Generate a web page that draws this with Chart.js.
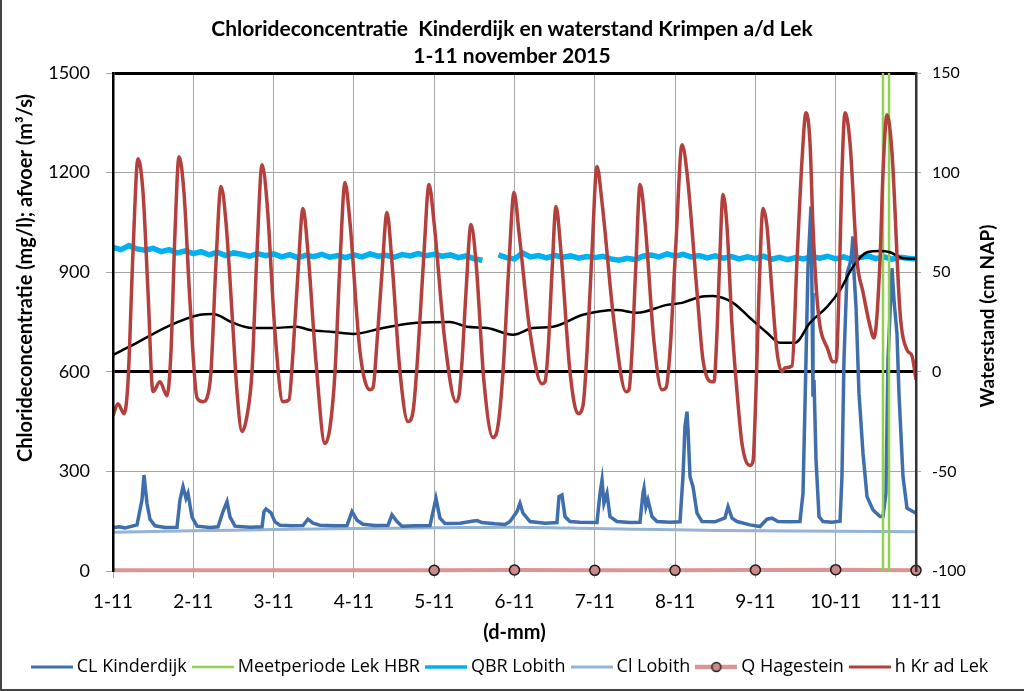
<!DOCTYPE html>
<html>
<head>
<meta charset="utf-8">
<script src="https://cdn.jsdelivr.net/npm/chart.js@4.4.0/dist/chart.umd.min.js"></script>
<style>
html,body{margin:0;padding:0;background:#fff;overflow:hidden}
canvas{display:block}
</style>
</head>
<body>
<canvas id="c" width="1024" height="691"></canvas>
<script>
// ---------- data ----------
const xTickLabels = ['1-11','2-11','3-11','4-11','5-11','6-11','7-11','8-11','9-11','10-11','11-11'];

// h Kr ad Lek (cm NAP), days after 1-11 00:00
const tideDays = [
  0.000,0.062,0.137,0.187,0.249,0.311,0.374,0.436,0.498,0.585,0.672,
  0.722,0.772,0.822,0.884,0.959,1.046,1.121,1.171,
  1.220,1.283,1.345,1.407,1.494,1.544,1.606,1.669,
  1.731,1.793,1.856,1.918,2.017,2.117,2.192,
  2.242,2.304,2.366,2.428,2.528,2.640,2.702,
  2.765,2.827,2.889,2.951,3.076,3.200,3.238,
  3.288,3.350,3.412,3.474,3.574,3.674,3.736,
  3.798,3.873,3.935,3.998,4.134,4.271,4.309,
  4.346,4.396,4.458,4.521,4.620,4.732,4.795,
  4.857,4.932,4.994,5.056,5.193,5.342,5.380,
  5.417,5.467,5.517,5.579,5.691,5.791,5.853,
  5.903,5.965,6.027,6.090,6.239,6.389,6.426,
  6.463,6.513,6.563,6.625,6.737,6.837,6.887,
  6.936,7.011,7.086,7.148,7.273,7.347,7.460,7.484,
  7.522,7.559,7.597,7.646,7.709,7.771,7.833,7.933,7.970,
  8.007,8.045,8.095,8.144,8.207,8.269,8.331,8.369,8.456,
  8.518,8.580,8.630,8.680,8.717,8.780,8.904,8.966,9.004,
  9.041,9.078,9.116,9.178,9.265,9.340,9.427,9.477,
  9.552,9.589,9.639,9.701,9.801,9.888,9.950,10.000
];
const tideLevels = [
  -22,-16,-21,-5,60,107,90,40,-10,-5,-12,
  10,70,108,90,35,-13,-15,-13,
  0,55,93,75,22,-10,-30,-22,
  0,60,104,85,20,-15,-14,
  10,50,82,60,5,-36,-28,
  0,55,95,75,10,-9,-8,
  15,50,80,55,0,-25,-20,
  10,60,94,75,15,-15,-12,
  5,40,74,55,-5,-33,-27,
  0,55,90,70,20,-6,-5,
  10,50,83,60,0,-21,-17,
  10,60,103,85,25,-10,-9,
  10,55,94,75,15,-9,-8,
  10,65,114,100,40,6,-5,-5,
  20,60,89,73,23,-10,-36,-47,-45,
  -10,40,82,73,40,10,0,2,3,
  56,106,130,115,73,31,11,5,5,
  40,100,130,115,56,40,23,17,
  56,100,129,110,30,11,8,-4
];

// black line (right axis, cm NAP) - no legend entry
const meanDays = [
  0.000,0.249,0.672,1.083,1.245,1.494,1.731,1.992,2.291,2.453,
  2.740,2.989,3.362,3.786,4.197,4.408,4.658,4.981,5.230,5.479,
  5.853,6.276,6.526,6.899,7.086,7.310,7.472,7.721,7.933,8.144,
  8.306,8.493,8.680,8.892,9.054,9.215,9.390,9.552,9.676,9.838,10.000
];
const meanLevels = [
  8.5,13.5,22.6,28.6,29,24.6,22,22,22.6,21,
  20,19,22,24.6,25,22.6,22,18.6,22,22.6,
  28.6,31,29.6,33.6,34.6,37.6,38,34.6,27,19.6,
  14.6,14.6,24.6,32.6,41,52.7,60,60.7,60,57,56.7
];

// CL Kinderdijk (mg/l)
const clKinderdijkDays = [
  0.000,0.075,0.149,0.299,0.361,0.386,0.423,0.461,0.523,0.648,
  0.797,0.834,0.872,0.909,0.934,0.984,1.046,1.208,1.308,1.370,
  1.420,1.457,1.519,1.706,1.856,1.880,1.905,1.968,2.017,2.080,
  2.229,2.366,2.428,2.491,2.578,2.765,2.914,2.976,3.039,3.113,
  3.263,3.425,3.474,3.537,3.599,3.761,3.948,4.022,4.072,4.134,
  4.321,4.471,4.533,4.595,4.757,4.882,4.944,5.031,5.068,5.106,
  5.193,5.380,5.529,5.554,5.591,5.629,5.691,5.815,6.027,6.065,
  6.090,6.114,6.152,6.189,6.276,6.438,6.563,6.600,6.613,6.637,
  6.662,6.712,6.774,6.936,7.061,7.098,7.123,7.148,7.161,7.186,
  7.223,7.273,7.335,7.497,7.621,7.659,7.709,7.771,7.933,8.057,
  8.144,8.207,8.281,8.431,8.555,8.593,8.630,8.655,8.692,8.705,
  8.717,8.730,8.755,8.792,8.842,8.954,9.054,9.078,9.103,9.141,
  9.191,9.215,9.228,9.253,9.290,9.340,9.390,9.465,9.552,9.589,
  9.626,9.651,9.701,9.726,9.763,9.788,9.838,9.888,10.000
];
const clKinderdijkValues = [
  130,133,130,139,214,289,204,156,136,131,
  132,214,254,219,234,162,135,131,133,179,
  209,163,135,132,133,179,187,175,148,138,
  136,137,156,144,138,136,137,179,153,141,
  137,138,169,149,135,136,137,219,159,143,
  144,150,152,146,142,140,149,179,204,174,
  149,144,146,224,229,164,149,147,146,234,
  274,204,234,164,149,146,147,234,249,194,
  214,164,149,147,148,284,435,480,425,284,
  254,174,149,148,160,194,159,149,139,134,
  156,159,149,148,149,234,636,917,1098,837,
  525,575,334,164,149,147,150,284,636,897,
  937,1008,897,796,535,354,224,184,164,164,
  234,636,912,816,716,535,284,189,174
];

// QBR Lobith (m3/s), one value every 0.1 day from 1-11 00:00
const qbrStepDays = 0.1;
const qbrLobith = [
  975,968,980,970,966,972,962,968,958,964,
  956,962,952,960,950,958,954,948,956,950,
  955,946,953,944,951,947,954,945,950,944,
  952,946,955,948,951,945,953,949,956,950,
  954,948,952,944,949,940,936,null,952,944,
  940,958,946,950,943,951,945,949,942,947,
  944,948,940,936,942,938,948,952,946,955,
  948,954,946,950,943,949,942,947,940,946,
  941,948,939,945,938,944,940,947,942,948,
  940,946,938,944,949,941,946,939,945,942,
  940
];

// Cl Lobith (mg/l), daily
const dailyDays = [0,1,2,3,4,5,6,7,8,9,10];
const clLobith = [117,121,125,128,130,132,128,124,121,120,118];

// Q Hagestein (m3/s), daily
const qHagestein = [2,2,2,2,2,3,2,2,3,4,2];
const qHagesteinMarked = [false,false,false,false,true,true,true,true,true,true,true];

// Meetperiode Lek HBR (start / end of period, days)
const meetperiodeDays = [9.589, 9.664];
const meetperiodeRange = [0, 1500];

// ---------- helpers ----------
const pts = (xs, ys) => xs.map((x, i) => ({x, y: ys[i]}));

function legendSymbol(color, width, marker) {
  const c = document.createElement('canvas');
  c.width = 42; c.height = 14;
  const g = c.getContext('2d');
  g.strokeStyle = color; g.lineWidth = width; g.lineCap = 'butt';
  g.beginPath(); g.moveTo(0, 7); g.lineTo(42, 7); g.stroke();
  if (marker) {
    g.beginPath(); g.arc(21, 7, 4.5, 0, Math.PI * 2);
    g.fillStyle = marker; g.fill();
    g.lineWidth = 1.5; g.strokeStyle = '#222'; g.stroke();
  }
  return c;
}

const COL = {
  cl: '#3F6EAD', meet: '#92D050', qbr: '#00B0F0', clLob: '#95B3D7',
  qHag: '#D99694', qHagMarker: '#C98A88', tide: '#B3403C', mean: '#000000'
};

const meetPoints = [
  {x: meetperiodeDays[0], y: meetperiodeRange[0]}, {x: meetperiodeDays[0], y: meetperiodeRange[1]},
  {x: meetperiodeDays[0], y: null},
  {x: meetperiodeDays[1], y: meetperiodeRange[1]}, {x: meetperiodeDays[1], y: meetperiodeRange[0]}
];

const datasets = [
  { label: 'CL Kinderdijk', data: pts(clKinderdijkDays, clKinderdijkValues), yAxisID: 'y',
    borderColor: COL.cl, borderWidth: 3.5, pointRadius: 0, tension: 0, order: 4,
    legendImage: legendSymbol(COL.cl, 3) },
  { label: 'Meetperiode Lek HBR', data: meetPoints, yAxisID: 'y', spanGaps: false,
    borderColor: COL.meet, borderWidth: 2.5, pointRadius: 0, tension: 0, order: 3,
    legendImage: legendSymbol(COL.meet, 2.5) },
  { label: 'QBR Lobith', data: qbrLobith.map((v, i) => ({x: i * qbrStepDays, y: v})), yAxisID: 'y',
    borderColor: COL.qbr, borderWidth: 5.5, pointRadius: 0, tension: 0, spanGaps: false, order: 5,
    legendImage: legendSymbol(COL.qbr, 3.5) },
  { label: 'Cl Lobith', data: pts(dailyDays, clLobith), yAxisID: 'y',
    borderColor: COL.clLob, borderWidth: 3, pointRadius: 0, tension: 0.3, order: 6,
    legendImage: legendSymbol(COL.clLob, 3) },
  { label: 'Q Hagestein', data: pts(dailyDays, qHagestein), yAxisID: 'y', clip: false,
    borderColor: COL.qHag, borderWidth: 4, tension: 0, order: 7,
    pointRadius: qHagesteinMarked.map(m => m ? 5 : 0), pointHoverRadius: 0,
    pointBackgroundColor: COL.qHagMarker, pointBorderColor: '#1a1a1a', pointBorderWidth: 1.5,
    legendImage: legendSymbol(COL.qHag, 4.5, COL.qHagMarker) },
  { label: 'h Kr ad Lek', data: pts(tideDays, tideLevels), yAxisID: 'y1',
    borderColor: COL.tide, borderWidth: 3.5, pointRadius: 0, cubicInterpolationMode: 'monotone', order: 1,
    legendImage: legendSymbol(COL.tide, 3) },
  { label: '', data: pts(meanDays, meanLevels), yAxisID: 'y1',
    borderColor: COL.mean, borderWidth: 2.5, pointRadius: 0, cubicInterpolationMode: 'monotone', order: 2 }
];

const isBold = v => v === 600 || v === 1500;

const decorPlugin = {
  id: 'decor',
  afterDraw(chart, args, o) {
    const ctx = chart.ctx;
    ctx.save();
    ctx.fillStyle = '#000';
    ctx.textAlign = 'center';
    ctx.textBaseline = 'middle';
    for (const t of o.titles) {
      ctx.save();
      ctx.font = t.font;
      ctx.translate(t.x, t.y);
      ctx.rotate(-Math.PI / 2);
      ctx.fillText(t.text, 0, 0);
      ctx.restore();
    }
    ctx.strokeStyle = o.frameColor;
    ctx.lineWidth = 2;
    ctx.beginPath();
    ctx.moveTo(1, 0); ctx.lineTo(1, chart.height - 1); ctx.lineTo(chart.width, chart.height - 1);
    ctx.stroke();
    ctx.restore();
  }
};

new Chart(document.getElementById('c'), {
  type: 'line',
  data: { datasets },
  plugins: [decorPlugin],
  options: {
    responsive: false,
    animation: false,
    devicePixelRatio: 1,
    layout: { padding: { top: 0, left: 0, right: 0, bottom: 5 } },
    font: { family: 'Lato' },
    plugins: {
      title: {
        display: true,
        text: ['Chlorideconcentratie  Kinderdijk en waterstand Krimpen a/d Lek', '1-11 november 2015'],
        color: '#000',
        font: { family: 'Lato', size: 21, weight: 'bold', lineHeight: '27px' },
        padding: { top: 16, bottom: 3 }
      },
      legend: {
        position: 'bottom',
        onClick: null,
        labels: {
          usePointStyle: true,
          pointStyleWidth: 32,
          padding: 10,
          color: '#000',
          font: { family: 'Open Sans', size: 18 },
          generateLabels(chart) {
            return chart.data.datasets
              .map((ds, i) => ({ds, i}))
              .filter(o => o.ds.legendImage)
              .map(o => ({
                text: o.ds.label, pointStyle: o.ds.legendImage, datasetIndex: o.i,
                hidden: false, lineWidth: 0, fillStyle: o.ds.borderColor,
                strokeStyle: o.ds.borderColor, fontColor: '#000'
              }));
          }
        }
      },
      tooltip: { enabled: false },
      decor: {
        frameColor: '#444',
        titles: [
          { text: 'Chlorideconcentratie (mg/l); afvoer (m³/s)', x: 26, y: 278, font: 'bold 20px Lato' },
          { text: 'Waterstand (cm NAP)', x: 988, y: 316, font: 'bold 19px Lato' }
        ]
      }
    },
    scales: {
      x: {
        type: 'linear', min: 0, max: 10,
        afterFit: s => { s.height = 77; },
        ticks: { stepSize: 1, autoSkip: false, maxRotation: 0, padding: 12, color: '#000',
                 font: { family: 'Lato', size: 19 }, callback: v => xTickLabels[v] },
        grid: { color: '#A6A6A6', lineWidth: 1, tickLength: 7, tickColor: '#A6A6A6' },
        border: { color: '#A6A6A6', width: 1 },
        title: { display: true, text: '(d-mm)', color: '#000',
                 font: { family: 'Lato', size: 20, weight: 'bold' }, padding: { top: 0, bottom: 3 } }
      },
      y: {
        position: 'left', min: 0, max: 1500,
        afterFit: s => { s.width = 113; },
        ticks: { stepSize: 300, padding: 16, color: '#000', font: { family: 'Lato', size: 18 },
                 callback: v => String(v) },
        grid: {
          color: c => (c.tick && isBold(c.tick.value)) ? '#000' : '#A6A6A6',
          lineWidth: c => (c.tick && isBold(c.tick.value)) ? 3 : 1,
          tickLength: 7, tickColor: '#A6A6A6', tickWidth: 1
        },
        border: { color: '#000', width: 2.5, z: 1 }
      },
      y1: {
        position: 'right', min: -100, max: 150,
        afterFit: s => { s.width = 108; },
        ticks: { stepSize: 50, padding: 11, color: '#000', font: { family: 'Lato', size: 16 },
                 callback: v => String(v) },
        grid: { drawOnChartArea: false, tickLength: 5, tickColor: '#A6A6A6' },
        border: { color: '#333', width: 2.5, z: 1 }
      }
    }
  }
});
</script>
</body>
</html>
